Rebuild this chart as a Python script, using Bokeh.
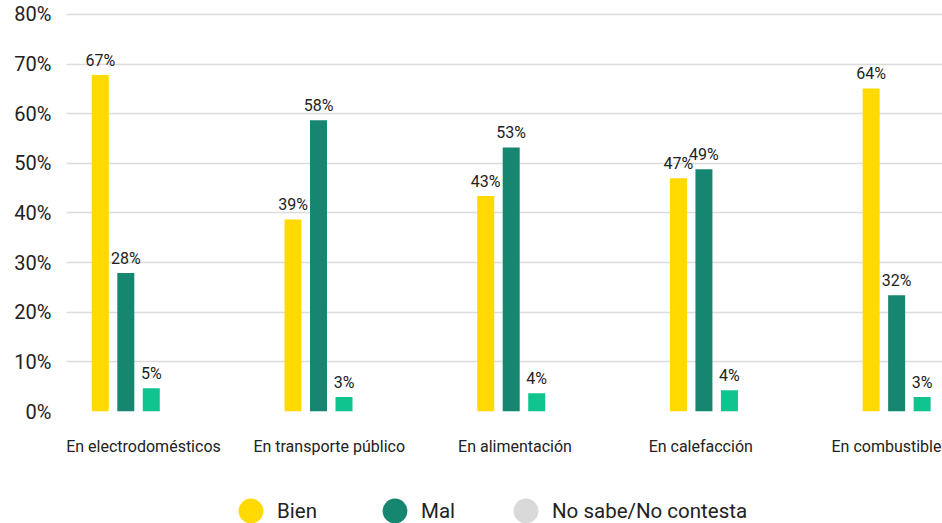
from bokeh.plotting import figure
from bokeh.layouts import column
from bokeh.models import (ColumnDataSource, Range1d, LinearAxis, FixedTicker,
                          PrintfTickFormatter, Legend, LegendItem)
from bokeh.transform import dodge
from bokeh.embed import file_html
from bokeh.resources import INLINE
from bokeh.core.properties import value

categories = ["En electrodomésticos", "En transporte público", "En alimentación",
              "En calefacción", "En combustible"]
series = ["Bien", "Mal", "No sabe/No contesta"]
bien = [67.8, 38.7, 43.4, 47.0, 65.1]
mal = [27.9, 58.7, 53.2, 48.8, 23.4]
nsnc = [4.7, 2.9, 3.7, 4.3, 2.9]
bien_labels = ["67%", "39%", "43%", "47%", "64%"]
mal_labels = ["28%", "58%", "53%", "49%", "32%"]
nsnc_labels = ["5%", "3%", "4%", "4%", "3%"]
y_ticks = [0, 10, 20, 30, 40, 50, 60, 70, 80]

bar_colors = ["#FFD900", "#178670", "#10C490"]
legend_colors = ["#FFD900", "#178670", "#D9D9D9"]
TEXT = "#222222"
FONT = "Roboto"

idx = list(range(len(categories)))
source = ColumnDataSource(data=dict(
    idx=idx, bien=bien, mal=mal, nsnc=nsnc,
    bien_l=bien_labels, mal_l=mal_labels, nsnc_l=nsnc_labels,
))

p = figure(width=942, height=463, output_backend="svg", toolbar_location=None,
           x_range=Range1d(-0.3077, 4.238), y_range=Range1d(0, 81),
           x_axis_location=None, tools="")
p.min_border_left = 66
p.min_border_right = 0
p.min_border_top = 9
p.min_border_bottom = 52
p.outline_line_color = None
p.background_fill_color = "white"
p.border_fill_color = "white"

# category axis on its own range
p.extra_x_ranges = {"cats": Range1d(-0.4145, 4.3015)}
xax = LinearAxis(x_range_name="cats", ticker=FixedTicker(ticks=idx),
                 major_label_overrides={i: c for i, c in zip(idx, categories)})
xax.axis_line_color = None
xax.major_tick_line_color = None
xax.minor_tick_line_color = None
xax.major_label_standoff = 19
xax.major_label_text_font = FONT
xax.major_label_text_font_size = "16px"
xax.major_label_text_color = TEXT
p.add_layout(xax, "below")

p.xgrid.visible = False
p.ygrid.ticker = FixedTicker(ticks=y_ticks)
p.ygrid.grid_line_color = "#DCDCDC"
p.ygrid.grid_line_width = 1.5

yax = p.yaxis[0]
yax.ticker = FixedTicker(ticks=y_ticks)
yax.formatter = PrintfTickFormatter(format="%d%%")
yax.axis_line_color = None
yax.major_tick_line_color = None
yax.minor_tick_line_color = None
yax.major_tick_out = 0
yax.major_label_standoff = 15
yax.major_label_text_font = FONT
yax.major_label_text_font_size = "20px"
yax.major_label_text_color = TEXT

bw = 0.0882
off = 0.1323
fields = [("bien", "bien_l", -off), ("mal", "mal_l", 0.0), ("nsnc", "nsnc_l", off)]
for (f, lf, o), col in zip(fields, bar_colors):
    p.vbar(x=dodge("idx", o, range=p.x_range), top=f, width=bw, source=source,
           fill_color=col, line_color=None)
    p.text(x=dodge("idx", o, range=p.x_range), y=f, text=lf, source=source,
           text_font=value(FONT), text_font_size=value("16px"), text_color=TEXT,
           text_align="center", text_baseline="alphabetic", y_offset=-15)

# legend strip below the chart (frame aligned with the chart above)
pl = figure(width=942, height=60, output_backend="svg", toolbar_location=None,
            x_range=Range1d(0, 1), y_range=Range1d(0, 1),
            x_axis_location=None, y_axis_location=None, tools="")
pl.min_border_left = 66
pl.min_border_right = 0
pl.min_border_top = 0
pl.min_border_bottom = 0
pl.outline_line_color = None
pl.xgrid.visible = False
pl.ygrid.visible = False

value_cols = ["bien", "mal", "nsnc"]
leg_x = [169, 313, 444]
for name, col, vc, lx in zip(series, legend_colors, value_cols, leg_x):
    # circles fall outside this strip's ranges: only their legend swatch shows
    r = pl.ellipse(x="idx", y=vc, width=24, height=24, width_units="screen",
                   height_units="screen", source=source,
                   fill_color=col, line_color=None)
    leg = Legend(items=[LegendItem(label=name, renderers=[r])],
                 location=(lx, -3), orientation="horizontal",
                 glyph_width=31, glyph_height=31, label_standoff=11,
                 padding=0, margin=0, spacing=0,
                 border_line_color=None, background_fill_alpha=0,
                 label_text_font=FONT, label_text_font_size="20.5px",
                 label_text_color=TEXT)
    pl.add_layout(leg)

layout = column(p, pl, spacing=0)
open("out.html", "w").write(file_html(layout, INLINE))
